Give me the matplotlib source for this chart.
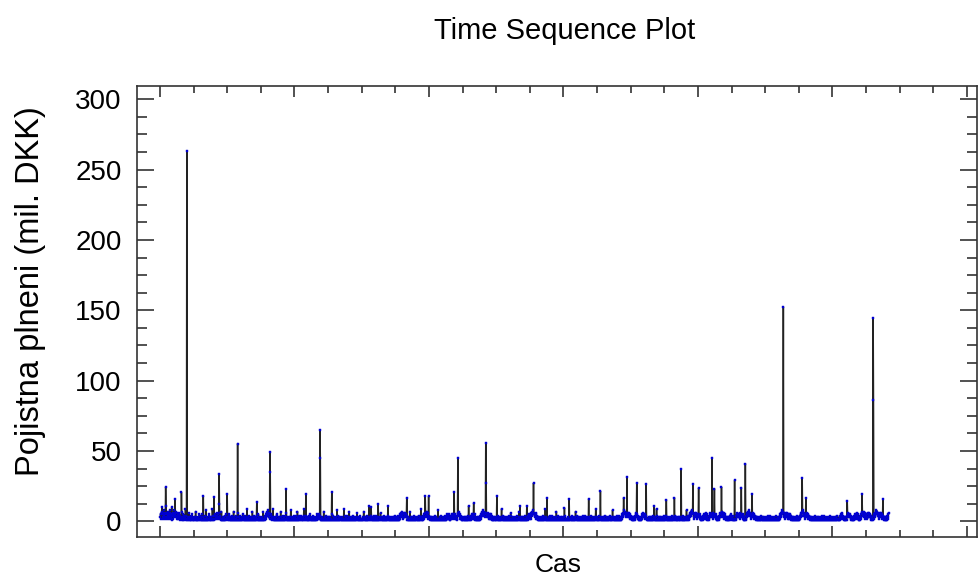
#!/usr/bin/env python
# -*- coding: utf-8 -*-

"""
Time sequence plot of fire insurance claims (mil. DKK), one value per claim.
"""

import numpy as np
import matplotlib

matplotlib.use("Agg")
import matplotlib.pyplot as plt
from matplotlib.ticker import MultipleLocator, NullFormatter

# Low level of the claims, one hex digit (mil. DKK) per claim
base_digits = """
35257a6352 4683527b62 5374625384 6253a41625 3846253742 6352463524 1321712315 2142392143 1213162132 1412351213
2131273121 1213125412 3121513161 2141218121 3121254131 2131294121 3242534263 4352635243 2171213121 3141215231
2131452131 2141312171 3121412131 2161312141 2131253121 3141213191 2131412121 3121713141 2131213141 2151312131
2131217121 3142536475 8463524352 4231392131 2121315141 2131213171 3121412131 2141263121 2131213181 3121312141
2131412171 3142131214 3121312941 2131412131 2141253121 3121413121 2131215342 4352413121 2131217121 3121412131
2131213121 3151412131 2121318141 2131213121 3121219141 2131412121 3171213121 2141213121 2131263121 3121412121
2121372131 2131412121 3121213a41 2131214131 2141312151 3121263121 2131412131 2121312b41 3121213121 2131213141
2131213141 2142536475 4352635463 4352413121 2171213121 3121412131 2121312141 2131293121 3142536354 6475364253
4231312131 2121312141 3121218121 2131412121 3121213141 3142534253 2131424353 4253635242 3142536475 3524231312
2131213121 3121412b31 2131425342 5364253121 2131213121 3142536475 8675463524 6354635243 5243524131 2131213121
3121412131 2121392141 2131213121 3121213141 2161412121 3121213121 2141213721 2131213121 3121412121 2131425342
4352647586 7564536253 4231312131 2121312141 2131293121 3121213141 2131412121 3121213171 2141213121 2131213121
3121412121 2131213121 3121412131 2121372141 2131213121 3121213141 2131412121 3121213121 2141213121 2131293121
3121412121 2131213121 3121412131 2121312141 2131283121 3121213141 2131412121 3142536475 8675463524 6354635243
4231312131 3142536453 4231312131 2142536453 4352413121 2131213121 3121412131 2121319141 2131213121 3121213141
2131412121 3121213121 2141213121 3142131213 2131213121 3121412131 2121382141 3142536475 8675463524 6354635243
5243524131 2131425342 5364253121 2142536453 4352635463 4352413121 3142536354 6475364253 4231312131 2131425342
3121412131 2142536453 4352635463 4352413121 3142536475 8675463524 6354635243 4231312131 2121312141 2131213121
3121213141 2131412121 3121213121 2141213121 3142536475 8675463524 6354635243 5243524131 2131213121 3121412131
3142536475 8675463524 6354635243 4231312131 2121312141 2131213121 3121213141 2131412121 3121213121 2141213121
2131213121 3121412121 3142536453 4231312131 3142536354 4352413121 2131425342 5364253121 3142536475 6475364253
4352635463 4352413121 3142536475 8675463524 6354635243 4231312131 3142536
"""

# Large claims: claim number -> value
spike_idx = [17, 45, 64, 80, 129, 161, 176, 177, 200, 231, 288, 327, 328, 375,
             434, 476, 477, 511, 622, 649, 734, 789, 799, 875, 886, 933, 969,
             970, 1002, 1071, 1091, 1111, 1151, 1203, 1217, 1275, 1310, 1379,
             1389, 1418, 1446, 1470, 1506, 1530, 1550, 1585, 1602, 1642, 1649,
             1670, 1709, 1729, 1741, 1761, 1854, 1910, 1921, 2044, 2088, 2121,
             2122, 2150]
spike_val = [24.4, 15.6, 20.6, 263.25, 18.0, 17.0, 33.4, 12.0, 19.6, 55.3, 13.5,
             49.3, 35.0, 23.2, 19.2, 64.7, 44.8, 20.6, 11.0, 12.0, 16.8, 17.8,
             17.8, 20.6, 45.3, 13.0, 55.7, 27.0, 17.8, 11.0, 11.0, 27.2, 16.8,
             9.6, 16.0, 16.0, 21.5, 16.8, 31.5, 27.2, 26.8, 11.0, 15.4, 16.8,
             37.0, 26.8, 23.7, 45.3, 23.2, 24.4, 29.1, 24.0, 41.0, 19.2, 152.4,
             31.0, 16.8, 14.2, 19.6, 144.7, 86.0, 15.6]

title = "Time Sequence Plot"
x_label = "Cas"
y_label = "Pojistna plneni (mil. DKK)"
y_ticks = [0, 50, 100, 150, 200, 250, 300]


def build_series():
    """Combine the base level and the spikes into one claim series."""
    values = np.array([float(int(c, 16)) for c in base_digits if c.isalnum()])
    for i, v in zip(spike_idx, spike_val):
        values[i - 1] = v
    index = np.arange(1, len(values) + 1)
    return index, values


def main():
    plt.rcParams["font.family"] = ["Liberation Sans", "DejaVu Sans"]

    index, values = build_series()

    fig = plt.figure(figsize=(9.79, 5.76), dpi=100)
    ax = fig.add_axes([0.140, 0.068, 0.858, 0.783])

    # dark connecting line, tiny blue points on top
    ax.plot(index, values, color="#222222", linewidth=1.1,
            marker="s", markersize=1.5, markerfacecolor="#0000d0",
            markeredgecolor="#0000d0", markeredgewidth=0.3)

    ax.set_xlim(-68, 2430)
    ax.set_ylim(-11, 309.5)

    ax.xaxis.set_major_locator(MultipleLocator(400))
    ax.xaxis.set_minor_locator(MultipleLocator(100))
    ax.xaxis.set_major_formatter(NullFormatter())
    ax.set_yticks(y_ticks)
    ax.yaxis.set_minor_locator(MultipleLocator(12.5))

    ax.tick_params(axis="both", which="both", direction="in",
                   top=True, right=True, color="#333333", width=1.2)
    ax.tick_params(axis="x", which="major", length=8)
    ax.tick_params(axis="x", which="minor", length=5)
    ax.tick_params(axis="y", which="major", length=12, labelsize=20, pad=11)
    ax.tick_params(axis="y", which="minor", length=7)

    for spine in ax.spines.values():
        spine.set_color("#333333")
        spine.set_linewidth(1.2)

    fig.text(0.577, 1 - 31 / 576, title, ha="center", va="center", fontsize=21)
    fig.text(0.570, 1 - 565 / 576, x_label, ha="center", va="center", fontsize=19)
    fig.text(31 / 979, 1 - 291 / 576, y_label, ha="center", va="center",
             rotation=90, fontsize=23.5)

    fig.savefig("out.png", dpi=100)


if __name__ == "__main__":
    main()
